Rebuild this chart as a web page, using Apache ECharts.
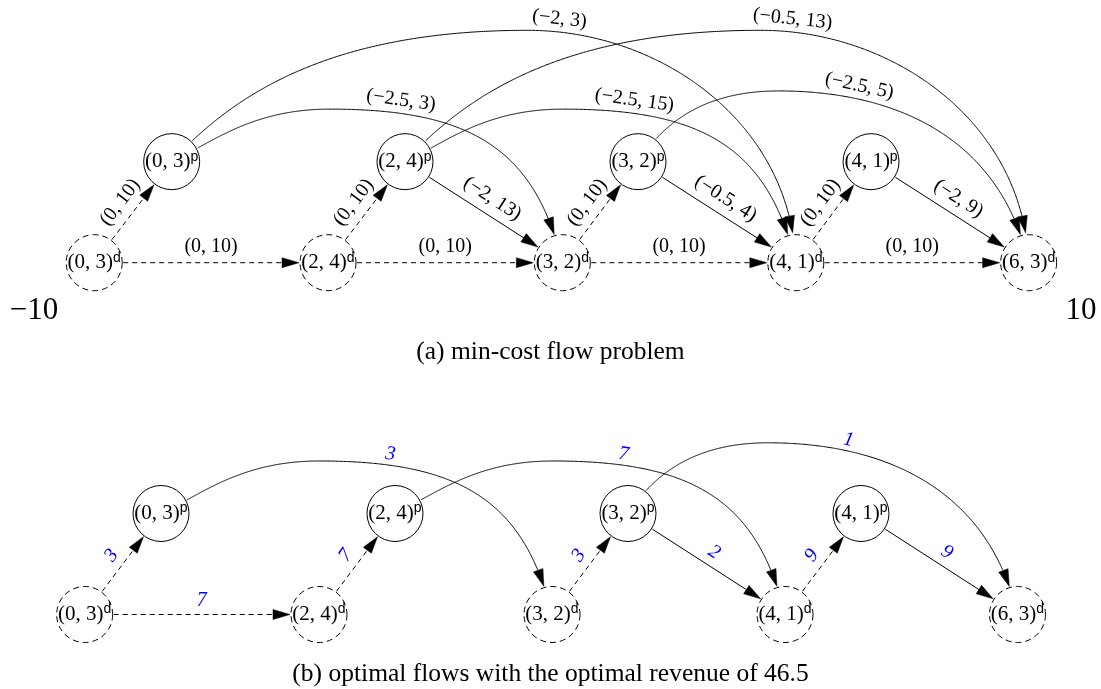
<!DOCTYPE html>
<html><head><meta charset="utf-8">
<script src="https://cdn.jsdelivr.net/npm/echarts@6/dist/echarts.min.js"></script>
<style>html,body{margin:0;padding:0;background:#fff}#c{width:1101px;height:689px}</style>
</head><body><div id="c"></div>
<script>
// ---------------- data ----------------
const dLabels = ['(0, 3)', '(2, 4)', '(3, 2)', '(4, 1)', '(6, 3)'];
const pLabels = ['(0, 3)', '(2, 4)', '(3, 2)', '(4, 1)'];
// node x values on the [-10, 10] axis, panel (a) and panel (b)
const dXA = [-8.85, -4.384, 0.092, 4.552, 9.0];
const pXA = [-7.37, -2.913, 1.538, 5.989];
const dXB = [-9.032, -4.556, -0.105, 4.346, 8.787];
const pXB = [-7.574, -3.104, 1.347, 5.797];
const xTickValues = [-10, 10];
// edges: [source, target, label]
const edgesA = [
  ['d0', 'p0', '(0, 10)'], ['d1', 'p1', '(0, 10)'], ['d2', 'p2', '(0, 10)'], ['d3', 'p3', '(0, 10)'],
  ['d0', 'd1', '(0, 10)'], ['d1', 'd2', '(0, 10)'], ['d2', 'd3', '(0, 10)'], ['d3', 'd4', '(0, 10)'],
  ['p0', 'd2', '(\u22122.5, 3)'], ['p0', 'd3', '(\u22122, 3)'],
  ['p1', 'd2', '(\u22122, 13)'], ['p1', 'd3', '(\u22122.5, 15)'], ['p1', 'd4', '(\u22120.5, 13)'],
  ['p2', 'd3', '(\u22120.5, 4)'], ['p2', 'd4', '(\u22122.5, 5)'],
  ['p3', 'd4', '(\u22122, 9)']
];
const edgesB = [
  ['d0', 'p0', '3'], ['d0', 'd1', '7'], ['p0', 'd2', '3'],
  ['d1', 'p1', '7'], ['p1', 'd3', '7'],
  ['d2', 'p2', '3'], ['p2', 'd3', '2'], ['p2', 'd4', '1'],
  ['d3', 'p3', '9'], ['p3', 'd4', '9']
];
const captionA = '(a) min-cost flow problem';
const captionB = '(b) optimal flows with the optimal revenue of 46.5';

// ---------------- layout / style ----------------
const rowOf = { d: 0, p: 1 };
// arc shapes (two cubic segments meeting at the peak)
const arcShapes = {
  short: { peak: 1.52, frac: 0.405, c1: [0.25, 0.35], c2: 0.5, c3: 0.6, c4: [0.12, 0.75], lf: 0.584 },
  long:  { peak: 2.30, frac: 0.57, c1: [0.17, 0.5], c2: 0.56, c3: 0.5, c4: [0.02, 0.6], lf: 0.62 },
  mid:   { peak: 1.70, frac: 0.36, c1: [0.17, 0.5], c2: 0.56, c3: 0.45, c4: [0.12, 0.75], lf: 0.56 }
};
const arcOf = { 'p0-d2': 'short', 'p0-d3': 'long', 'p1-d3': 'short', 'p1-d4': 'long', 'p2-d4': 'mid' };
const SERIF = 'Liberation Serif';
const SANS = 'Liberation Sans';

function nodeX(id, dX, pX) { return id[0] === 'd' ? dX[+id.slice(1)] : pX[+id.slice(1)]; }

function edgeData(edges, dX, pX) {
  return edges.map(([a, b]) => {
    const key = a + '-' + b;
    let kind = a[0] === 'd' ? 0 : 1;
    let peak = 0;
    if (arcOf[key]) { kind = 2; peak = arcShapes[arcOf[key]].peak; }
    return [nodeX(a, dX, pX), rowOf[a[0]], nodeX(b, dX, pX), rowOf[b[0]], kind, peak];
  });
}

const dist = (p, q) => Math.hypot(p[0] - q[0], p[1] - q[1]);
function cubic(p0, p1, p2, p3, t) {
  const u = 1 - t;
  return [u * u * u * p0[0] + 3 * u * u * t * p1[0] + 3 * u * t * t * p2[0] + t * t * t * p3[0],
          u * u * u * p0[1] + 3 * u * u * t * p1[1] + 3 * u * t * t * p2[1] + t * t * t * p3[1]];
}

function edgeRenderer(edges, lab) {
  return function (params, api) {
    const s = api.coord([api.value(0), api.value(1)]);
    const e = api.coord([api.value(2), api.value(3)]);
    const kind = api.value(4);
    const R = 29, AL = 17, AW = 5;
    let pts, lp, ang;
    if (kind === 2) {
      const edge = edges[params.dataIndex];
      const sh = arcShapes[arcOf[edge[0] + '-' + edge[1]]];
      const py = api.coord([api.value(0), api.value(5)])[1];
      const px = s[0] + sh.frac * (e[0] - s[0]);
      const W1 = px - s[0], H1 = s[1] - py, W2 = e[0] - px, H2 = e[1] - py;
      const pk = [px, py];
      const seg1 = [s, [s[0] + sh.c1[0] * W1, s[1] - sh.c1[1] * H1], [px - sh.c2 * W1, py], pk];
      const seg2 = [pk, [px + sh.c3 * W2, py], [e[0] - sh.c4[0] * W2, e[1] - sh.c4[1] * H2], e];
      const all = [];
      for (let i = 0; i <= 300; i++) all.push(cubic(seg1[0], seg1[1], seg1[2], seg1[3], i / 300));
      for (let i = 1; i <= 300; i++) all.push(cubic(seg2[0], seg2[1], seg2[2], seg2[3], i / 300));
      pts = all.filter(p => dist(p, s) >= R && dist(p, e) >= R);
      const lx = s[0] + sh.lf * (e[0] - s[0]);
      let bi = 1, bd = Infinity;
      for (let i = 1; i < all.length - 1; i++) { const d = Math.abs(all[i][0] - lx); if (d < bd) { bd = d; bi = i; } }
      const a = all[Math.max(0, bi - 4)], b = all[Math.min(all.length - 1, bi + 4)], c = all[bi];
      let tx = b[0] - a[0], ty = b[1] - a[1]; const L = Math.hypot(tx, ty); tx /= L; ty /= L;
      lp = [c[0] + ty * lab.arcOff, c[1] - tx * lab.arcOff];
      ang = Math.atan2(-ty, tx);
    } else {
      const L = dist(s, e); const ux = (e[0] - s[0]) / L, uy = (e[1] - s[1]) / L;
      pts = [[s[0] + ux * R, s[1] + uy * R], [e[0] - ux * R, e[1] - uy * R]];
      const m = [(s[0] + e[0]) / 2, (s[1] + e[1]) / 2];
      lp = [m[0] + uy * lab.off, m[1] - ux * lab.off];
      ang = Math.atan2(-uy, ux);
    }
    const tip = pts[pts.length - 1];
    let back = pts[0];
    for (let i = pts.length - 2; i >= 0; i--) { if (dist(pts[i], tip) >= 6) { back = pts[i]; break; } }
    const dl = dist(tip, back); const dx2 = (tip[0] - back[0]) / dl, dy2 = (tip[1] - back[1]) / dl;
    const base = [tip[0] - dx2 * AL, tip[1] - dy2 * AL];
    const left = [base[0] - dy2 * AW, base[1] + dx2 * AW];
    const right = [base[0] + dy2 * AW, base[1] - dx2 * AW];
    const linePts = pts.filter(p => dist(p, tip) > AL);
    linePts.push(base);
    return {
      type: 'group',
      children: [
        { type: 'polyline', shape: { points: linePts },
          style: { stroke: '#000', lineWidth: 1, fill: 'none', lineDash: kind === 0 ? [5, 4] : null } },
        { type: 'polygon', shape: { points: [tip, left, right] }, style: { fill: '#000', stroke: '#000', lineWidth: 0.5 } },
        { type: 'text', x: lp[0], y: lp[1], rotation: ang,
          style: { text: edges[params.dataIndex][2], fill: lab.color, fontSize: lab.size, fontFamily: SERIF,
                   fontStyle: lab.italic ? 'italic' : 'normal', align: 'center', verticalAlign: 'middle' } }
      ]
    };
  };
}

function nodeSeries(dX, pX, idx) {
  const data = [];
  dX.forEach((x, i) => data.push({ value: [x, rowOf.d], name: dLabels[i], kind: 'd', itemStyle: { borderType: [6, 4] } }));
  pX.forEach((x, i) => data.push({ value: [x, rowOf.p], name: pLabels[i], kind: 'p', itemStyle: { borderType: 'solid' } }));
  return {
    type: 'scatter', xAxisIndex: idx, yAxisIndex: idx, symbol: 'circle', symbolSize: 56, z: 5, silent: true,
    itemStyle: { color: '#fff', borderColor: '#000', borderWidth: 1, opacity: 1 },
    label: {
      show: true, position: 'inside',
      formatter: p => '{t|' + p.name + '}{s|' + p.data.kind + '}',
      rich: {
        t: { fontFamily: SERIF, fontSize: 21, lineHeight: 24, color: '#000' },
        s: { fontFamily: SANS, fontSize: 14, lineHeight: 14, verticalAlign: 'top', color: '#000' }
      }
    },
    emphasis: { disabled: true },
    data
  };
}

const chart = echarts.init(document.getElementById('c'), null, { renderer: 'canvas' });
const capStyle = { fontFamily: SERIF, fontSize: 25.5, fontWeight: 'normal', color: '#000' };
const option = {
  animation: false,
  backgroundColor: '#fff',
  title: [
    { text: captionA, left: 'center', top: 339, padding: 0, textStyle: capStyle },
    { text: captionB, left: 'center', top: 661, padding: 0, textStyle: capStyle }
  ],
  grid: [
    { left: 34, right: 20, top: 0, height: 293 },
    { left: 34, right: 20, top: 463, height: 202 }
  ],
  xAxis: [
    { gridIndex: 0, type: 'value', min: -10, max: 10,
      axisLine: { show: false }, axisTick: { show: false }, splitLine: { show: false },
      axisLabel: { customValues: xTickValues, margin: 2, fontSize: 31, fontFamily: SERIF, color: '#000',
                   formatter: v => (v < 0 ? '\u2212' : '') + Math.abs(v) } },
    { gridIndex: 1, type: 'value', min: -10, max: 10, show: false }
  ],
  yAxis: [
    { gridIndex: 0, type: 'value', min: -0.3, max: 2.6, show: false },
    { gridIndex: 1, type: 'value', min: -0.5, max: 1.5, show: false }
  ],
  series: [
    { type: 'custom', xAxisIndex: 0, yAxisIndex: 0, clip: false, silent: true, z: 2,
      renderItem: edgeRenderer(edgesA, { off: 16, arcOff: 13, size: 20, color: '#000', italic: false }),
      data: edgeData(edgesA, dXA, pXA) },
    nodeSeries(dXA, pXA, 0),
    { type: 'custom', xAxisIndex: 1, yAxisIndex: 1, clip: false, silent: true, z: 2,
      renderItem: edgeRenderer(edgesB, { off: 14, arcOff: 11, size: 20, color: '#0000ff', italic: true }),
      data: edgeData(edgesB, dXB, pXB) },
    nodeSeries(dXB, pXB, 1)
  ]
};
chart.setOption(option);
</script>
</body></html>
